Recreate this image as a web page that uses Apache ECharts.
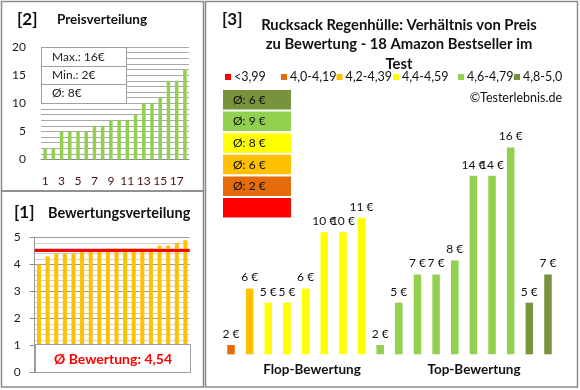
<!DOCTYPE html>
<html><head><meta charset="utf-8">
<script src="https://cdn.jsdelivr.net/npm/echarts@6/dist/echarts.min.js"></script>
<style>html,body{margin:0;padding:0;background:#fff}#c{width:580px;height:390px}</style>
</head><body><div id="c"></div>
<script>
// ---- data ----
const sortedPrices = [2,2,5,5,5,5,6,6,7,7,7,8,10,10,11,14,14,16];
const priceCats = ['1','2','3','4','5','6','7','8','9','10','11','12','13','14','15','16','17','18'];
const ratings = [4.0,4.3,4.4,4.4,4.4,4.5,4.5,4.5,4.6,4.6,4.6,4.6,4.6,4.6,4.7,4.7,4.8,4.9];
const prices = [2,6,5,5,6,10,10,11,2,5,7,7,8,14,14,16,5,7];
const avgRating = 4.54;
const avgRatingText = 'Ø Bewertung: 4,54';
const priceStats = ['Max.: 16€','Min.: 2€','Ø: 8€'];
const binLabels = ['<3,99','4,0-4,19','4,2-4,39','4,4-4,59','4,6-4,79','4,8-5,0'];
const binLower = [0,4.0,4.2,4.4,4.6,4.8];
const binAvg = ['', 'Ø: 2 €', 'Ø: 6 €', 'Ø: 8 €', 'Ø: 9 €', 'Ø: 6 €'];
const groupLabels = ['Flop-Bewertung','Top-Bewertung'];
const mainTitle = 'Rucksack Regenhülle: Verhältnis von Preis\nzu Bewertung - 18 Amazon Bestseller im\nTest';

// ---- styles ----
const binColors = ['#FF0000','#E46C0A','#FFC000','#FFFF00','#92D050','#77933C'];
const F = 'Lato, "Liberation Sans", sans-serif';
function binOf(r){ let k=0; for(let i=0;i<binLower.length;i++){ if(r>=binLower[i]-1e-9) k=i; } return k; }

const chart = echarts.init(document.getElementById('c'));
const g = [];
// borders
g.push({type:'rect',shape:{x:1.5,y:1.5,width:202,height:189.5},style:{fill:'none',stroke:'#8a8a8a',lineWidth:1.5},z:0});
g.push({type:'rect',shape:{x:1.5,y:191,width:202,height:196},style:{fill:'none',stroke:'#8a8a8a',lineWidth:1.5},z:0});
g.push({type:'rect',shape:{x:205.5,y:1.5,width:372,height:385.5},style:{fill:'none',stroke:'#8a8a8a',lineWidth:1.5},z:0});
// panel titles
g.push({type:'text',x:17,y:20,style:{text:'[2]',font:'bold 17px '+F,fill:'#111',verticalAlign:'middle'}});
g.push({type:'text',x:57,y:20,style:{text:'Preisverteilung',font:'bold 13.5px '+F,fill:'#111',verticalAlign:'middle'}});
g.push({type:'text',x:14,y:213,style:{text:'[1]',font:'bold 17px '+F,fill:'#111',verticalAlign:'middle'}});
g.push({type:'text',x:48,y:213,style:{text:'Bewertungsverteilung',font:'bold 14.5px '+F,fill:'#111',verticalAlign:'middle'}});
g.push({type:'text',x:222,y:20,style:{text:'[3]',font:'bold 17px '+F,fill:'#111',verticalAlign:'middle'}});
g.push({type:'text',x:399,y:44.5,style:{text:mainTitle,font:'bold 14.8px '+F,fill:'#111',align:'center',verticalAlign:'middle',lineHeight:19.5}});
// price stats box
g.push({type:'rect',shape:{x:41.5,y:47.5,width:85,height:56},style:{fill:'#fff',stroke:'#a0a0a0',lineWidth:1},z:10});
g.push({type:'line',shape:{x1:41.5,y1:66.5,x2:126.5,y2:66.5},style:{stroke:'#a0a0a0',lineWidth:1},z:11});
g.push({type:'line',shape:{x1:41.5,y1:84.5,x2:126.5,y2:84.5},style:{stroke:'#a0a0a0',lineWidth:1},z:11});
priceStats.forEach((t,i)=>g.push({type:'text',x:52,y:57+i*18.3,z:12,style:{text:t,font:'12px '+F,fill:'#222',verticalAlign:'middle'}}));
// rating avg box
g.push({type:'rect',shape:{x:35.5,y:344.5,width:155,height:28},style:{fill:'#fff',stroke:'#a0a0a0',lineWidth:1},z:10});
g.push({type:'text',x:113,y:359,z:12,style:{text:avgRatingText,font:'bold 14px '+F,fill:'#FF0000',align:'center',verticalAlign:'middle'}});
// legend
const legX = [225,281,336.5,393,458,514];
binLabels.forEach((t,i)=>{
  g.push({type:'rect',shape:{x:legX[i],y:74,width:6,height:6},style:{fill:binColors[i]}});
  g.push({type:'text',x:legX[i]+9,y:77,style:{text:t,font:'12.5px '+F,fill:'#111',verticalAlign:'middle'}});
});
g.push({type:'text',x:562,y:98,style:{text:'©Testerlebnis.de',font:'12.5px '+F,fill:'#111',align:'right',verticalAlign:'middle'}});
// bin average boxes
for(let i=5;i>=0;i--){
  const row = 5-i;
  const y = 90 + row*21.6;
  g.push({type:'rect',shape:{x:223,y:y,width:68,height:19.5},style:{fill:binColors[i]}});
  if(binAvg[i]) g.push({type:'text',x:233,y:y+10,style:{text:binAvg[i],font:'12px '+F,fill:'#111',verticalAlign:'middle'}});
}
// group labels
g.push({type:'text',x:312,y:370,style:{text:groupLabels[0],font:'bold 13.5px '+F,fill:'#111',align:'center',verticalAlign:'middle'}});
g.push({type:'text',x:474,y:370,style:{text:groupLabels[1],font:'bold 13.5px '+F,fill:'#111',align:'center',verticalAlign:'middle'}});

const option = {
  animation:false,
  textStyle:{fontFamily:F},
  grid:[
    {left:41,top:47,width:148,height:112.5},
    {left:34.7,top:237.5,width:155,height:135},
    {left:221.7,top:91.2,width:335.6,height:263.1}
  ],
  xAxis:[
    {gridIndex:0,type:'category',data:priceCats,axisLine:{lineStyle:{color:'#888'}},axisTick:{show:false},
     axisLabel:{interval:1,fontSize:12,color:'#4a1010',margin:16}},
    {gridIndex:1,type:'category',data:priceCats,axisLine:{show:false},axisTick:{show:false},axisLabel:{show:false}},
    {gridIndex:2,type:'category',data:priceCats,axisLine:{show:false},axisTick:{show:false},axisLabel:{show:false}}
  ],
  yAxis:[
    {gridIndex:0,type:'value',min:0,max:20,interval:1,axisLine:{show:false},axisTick:{show:false},
     axisLabel:{fontSize:12,color:'#1a1a1a',margin:15,formatter:v=>v%5===0?String(v):''},
     splitLine:{lineStyle:{color:'#a8a8a8',width:1}}},
    {gridIndex:1,type:'value',min:0,max:5,interval:1,axisLine:{show:true,lineStyle:{color:'#999'}},
     axisTick:{show:true,length:5,lineStyle:{color:'#888'}},
     axisLabel:{fontSize:12,color:'#1a1a2a',margin:14},
     splitLine:{lineStyle:{color:'#9a9a9a'}},
     minorTick:{show:false,splitNumber:5},
     minorSplitLine:{show:true,lineStyle:{color:'#cfcfcf'}}},
    {gridIndex:2,type:'value',min:1.34,max:20,show:false,splitLine:{show:false}}
  ],
  series:[
    {type:'bar',xAxisIndex:0,yAxisIndex:0,data:sortedPrices,barWidth:3.5,itemStyle:{color:'#92D050'}},
    {type:'bar',xAxisIndex:1,yAxisIndex:1,data:ratings,barWidth:4,itemStyle:{color:'#FFC000'},
     markLine:{silent:true,symbol:'none',label:{show:false},lineStyle:{color:'#FF0000',width:3,type:'solid'},data:[{yAxis:avgRating}]}},
    {type:'bar',xAxisIndex:2,yAxisIndex:2,barWidth:7.5,
     data:prices.map((p,i)=>({value:p,itemStyle:{color:binColors[binOf(ratings[i])]}})),
     label:{show:true,position:'top',distance:5,formatter:p=>p.value+' €',fontSize:12,color:'#111',fontFamily:F}}
  ],
  graphic:g
};
chart.setOption(option);
</script>
</body></html>
